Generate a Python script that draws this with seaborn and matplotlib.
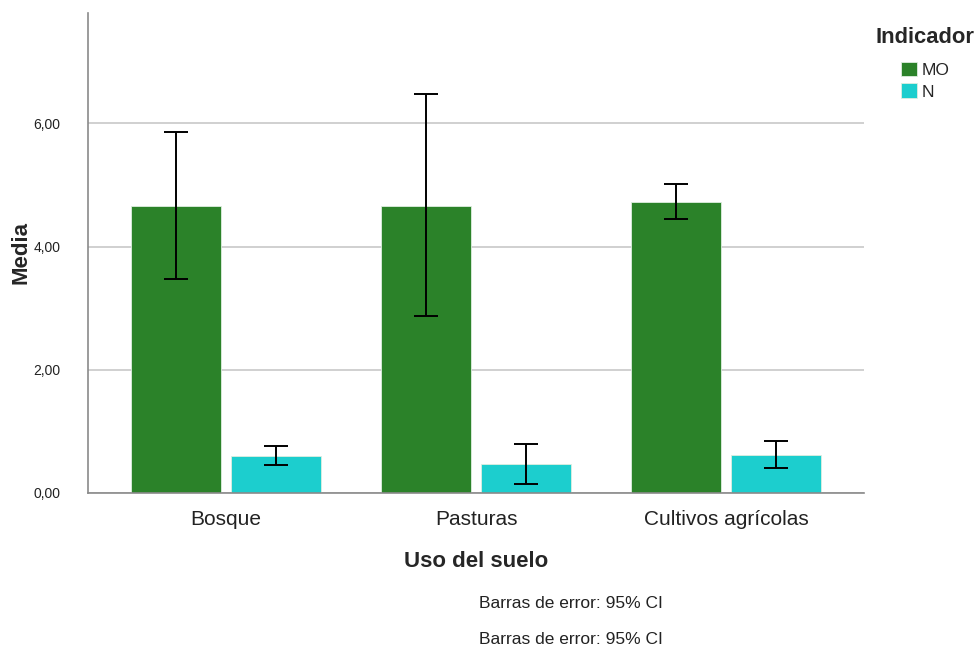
import matplotlib
matplotlib.use("Agg")
import matplotlib.pyplot as plt
from matplotlib.ticker import FuncFormatter
import seaborn as sns
import pandas as pd

# Mean values and 95% confidence limits by land use and indicator
usos = ["Bosque", "Pasturas", "Cultivos agrícolas"]
indicadores = ["MO", "N"]
media_mo = [4.66, 4.66, 4.73]
media_n = [0.60, 0.465, 0.62]
ic_inf_mo = [3.48, 2.87, 4.45]
ic_sup_mo = [5.86, 6.47, 5.01]
ic_inf_n = [0.46, 0.15, 0.41]
ic_sup_n = [0.76, 0.79, 0.84]
colores = ["#2b8229", "#1ccece"]

df = pd.DataFrame({
    "Uso del suelo": usos * 2,
    "Indicador": [indicadores[0]] * 3 + [indicadores[1]] * 3,
    "Media": media_mo + media_n,
    "inf": ic_inf_mo + ic_inf_n,
    "sup": ic_sup_mo + ic_sup_n,
})

sns.set_theme(style="white")
plt.rcParams["font.family"] = ["Liberation Sans", "DejaVu Sans"]

fig = plt.figure(figsize=(9.76, 6.49), dpi=100)
ax = fig.add_axes([88 / 976, 1 - 493 / 649, (864 - 88) / 976, (493 - 13) / 649])

sns.barplot(data=df, x="Uso del suelo", y="Media", hue="Indicador",
            hue_order=indicadores, order=usos, palette=colores,
            errorbar=None, width=0.8, gap=0.1, saturation=1,
            edgecolor="#dfeee0", linewidth=0.6, ax=ax, zorder=2)

# Error bars centred on each drawn bar
for cont, ind in zip(ax.containers, indicadores):
    sub = df[df["Indicador"] == ind].set_index("Uso del suelo").loc[usos]
    xs = [p.get_x() + p.get_width() / 2 for p in cont.patches]
    ys = sub["Media"].values
    err = [ys - sub["inf"].values, sub["sup"].values - ys]
    ax.errorbar(xs, ys, yerr=err, fmt="none", ecolor="black",
                elinewidth=1.4, capsize=8.5, capthick=1.4, zorder=3)

ax.set_xlim(-0.552, 2.55)
ax.set_ylim(0, 7.79)
ax.set_yticks([0, 2, 4, 6])
ax.yaxis.set_major_formatter(FuncFormatter(lambda v, _: f"{v:.2f}".replace(".", ",")))
ax.yaxis.grid(True, color="#c8c8c8", linewidth=1.2, zorder=0)
ax.set_axisbelow(True)
for s in ["top", "right"]:
    ax.spines[s].set_visible(False)
for s in ["left", "bottom"]:
    ax.spines[s].set_color("#8a8a8a")
    ax.spines[s].set_linewidth(1.2)
ax.tick_params(axis="y", length=0, labelsize=10, pad=20, colors="#222222")
ax.tick_params(axis="x", length=0, labelsize=15, pad=12, colors="#222222")

ax.set_xlabel("Uso del suelo", fontsize=16, fontweight="bold", labelpad=16)
ax.set_ylabel("Media", fontsize=16, fontweight="bold", labelpad=1)

handles, labels = ax.get_legend_handles_labels()
ax.legend(handles, labels, title="Indicador", frameon=False,
          loc="upper left", bbox_to_anchor=(860 / 976, 1 - 11 / 649),
          bbox_transform=fig.transFigure, fontsize=12.5,
          title_fontproperties={"weight": "bold", "size": 15.8},
          handlelength=0.92, handleheight=0.92, handletextpad=0.3,
          labelspacing=0.32)
leg = ax.get_legend()
leg._legend_box.sep = 10

fig.text(479 / 976, 1 - 604 / 649, "Barras de error: 95% CI", fontsize=12.5,
         ha="left", va="center", color="#222222")
fig.text(479 / 976, 1 - 639 / 649, "Barras de error: 95% CI", fontsize=12.5,
         ha="left", va="center", color="#222222")

fig.savefig("out.png", dpi=100, facecolor="white")
